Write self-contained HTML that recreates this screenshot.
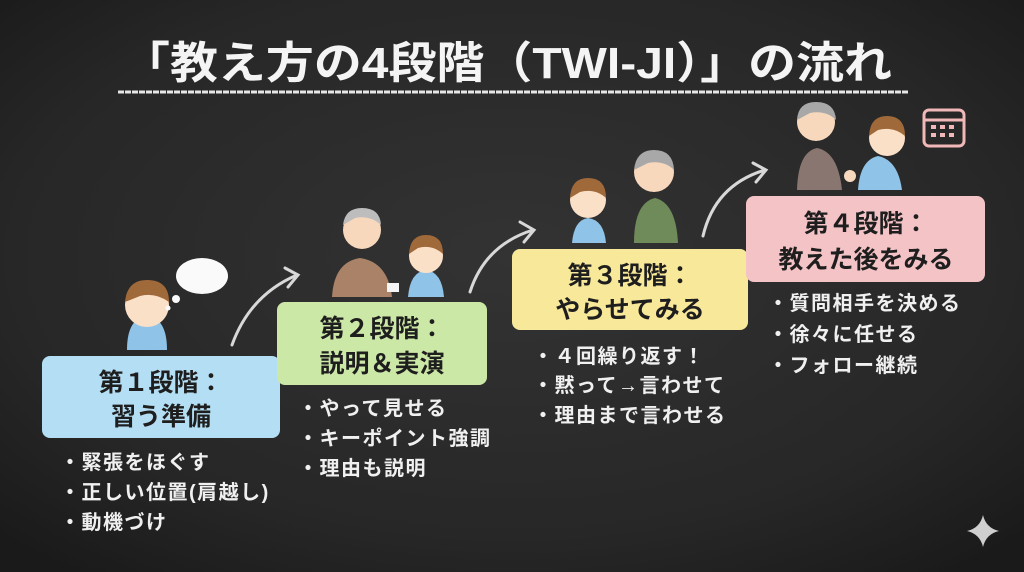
<!DOCTYPE html>
<html><head><meta charset="utf-8"><style>
html,body{margin:0;padding:0;width:1024px;height:572px;overflow:hidden;background:#262626}
svg{display:block}
text{font-family:"Liberation Sans","Noto Sans CJK JP",sans-serif;font-weight:700}
</style></head><body>
<svg width="1024" height="572" viewBox="0 0 1024 572" xmlns="http://www.w3.org/2000/svg">
<defs>
<radialGradient id="bg" cx="50%" cy="45%" r="70%">
<stop offset="0" stop-color="#333333"/><stop offset="0.7" stop-color="#272727"/><stop offset="1" stop-color="#1a1a1a"/>
</radialGradient>
</defs>
<rect width="1024" height="572" fill="url(#bg)"/>
<text x="122" y="78" font-size="44" fill="#f4f4f4" textLength="770" lengthAdjust="spacingAndGlyphs">「教え方の4段階（TWI-JI）」の流れ</text>
<line x1="118" y1="92" x2="908" y2="92" stroke="#e6e6e6" stroke-width="3" stroke-dasharray="6 1"/>

<g fill="none" stroke="#d8d8d8" stroke-width="3" stroke-linecap="round">
<path d="M232 345 Q250 295 297 275"/><path d="M285 268 L298 275 L288 287"/>
<path d="M470 292 Q485 245 533 230"/><path d="M520 222 L534 230 L524 242"/>
<path d="M703 236 Q715 185 765 170"/><path d="M753 163 L766 170 L756 182"/>
</g>

<rect x="42" y="356" width="238" height="82" rx="8" fill="#b3def3"/>
<rect x="277" y="302" width="210" height="83" rx="8" fill="#cce8a6"/>
<rect x="512" y="249" width="236" height="81" rx="8" fill="#f8e89a"/>
<rect x="746" y="196" width="239" height="86" rx="8" fill="#f4c3c6"/>
<g fill="#1e1e1e" font-size="25" text-anchor="middle">
<text x="161" y="391">第１段階：</text><text x="161" y="425">習う準備</text>
<text x="382" y="337">第２段階：</text><text x="382" y="372">説明＆実演</text>
<text x="630" y="284">第３段階：</text><text x="630" y="318">やらせてみる</text>
<text x="866" y="232">第４段階：</text><text x="866" y="268">教えた後をみる</text>
</g>
<g fill="#f0f0f0" font-size="20" letter-spacing="1.5">
<text x="60" y="469">・緊張をほぐす</text><text x="60" y="499">・正しい位置(肩越し)</text><text x="60" y="529">・動機づけ</text>
<text x="298" y="415">・やって見せる</text><text x="298" y="445">・キーポイント強調</text><text x="298" y="475">・理由も説明</text>
<text x="533" y="363">・４回繰り返す！</text><text x="533" y="392">・黙って→言わせて</text><text x="533" y="422">・理由まで言わせる</text>
<text x="768" y="310">・質問相手を決める</text><text x="768" y="341">・徐々に任せる</text><text x="768" y="372">・フォロー継続</text>
</g>

<path d="M127 350 Q127 318 147 316 Q167 318 167 350 Z" fill="#8fc3e8"/>
<circle cx="147" cy="305" r="22" fill="#fbe0c8"/>
<path d="M125 302 Q127 280 147 280 Q169 280 169 302 Q155 292 140 296 Z" fill="#a0693a"/>
<g fill="#fafafa"><ellipse cx="202" cy="276" rx="26" ry="18"/><circle cx="176" cy="299" r="4"/><circle cx="168" cy="308" r="2.5"/></g>
<path d="M332 297 Q334 262 360 258 Q388 262 392 297 Z" fill="#a98268"/>
<circle cx="362" cy="230" r="19" fill="#f7d8bd"/><path d="M343 225 Q345 208 362 208 Q380 208 381 225 Q370 215 355 218 Z" fill="#bdbdbd"/>
<path d="M408 297 Q410 272 426 270 Q442 272 444 297 Z" fill="#8fc3e8"/>
<circle cx="426" cy="256" r="17" fill="#fbe0c8"/><path d="M409 254 Q410 235 426 235 Q443 235 443 254 Q432 244 418 248 Z" fill="#a0693a"/>
<rect x="387" y="283" width="12" height="9" fill="#f5f5f5"/>
<path d="M572 243 Q574 220 588 218 Q604 220 606 243 Z" fill="#8fc3e8"/>
<circle cx="588" cy="200" r="18" fill="#fbe0c8"/><path d="M570 198 Q571 178 588 178 Q606 178 606 198 Q595 188 580 192 Z" fill="#a0693a"/>
<path d="M634 243 Q634 203 655 198 Q676 203 678 243 Z" fill="#6f8b5a"/>
<circle cx="654" cy="172" r="20" fill="#f7d8bd"/><path d="M634 170 Q636 150 654 150 Q673 150 674 170 Q664 160 648 163 Z" fill="#a8a8a8"/>
<path d="M797 190 Q798 152 817 148 Q838 152 842 190 Z" fill="#8a7670"/>
<circle cx="816" cy="122" r="19" fill="#f7d8bd"/><path d="M797 120 Q798 102 816 102 Q835 102 836 120 Q826 110 810 113 Z" fill="#a8a8a8"/>
<path d="M858 190 Q860 160 878 156 Q898 160 902 190 Z" fill="#8fc3e8"/>
<circle cx="887" cy="138" r="18" fill="#fbe0c8"/><path d="M869 136 Q870 116 887 116 Q905 116 905 136 Q894 126 878 130 Z" fill="#a0693a"/>
<circle cx="850" cy="176" r="6" fill="#f7d8bd"/>
<rect x="924" y="110" width="40" height="36" rx="5" fill="none" stroke="#f0b8b8" stroke-width="3"/>
<line x1="924" y1="120" x2="964" y2="120" stroke="#f0b8b8" stroke-width="3"/>
<g fill="#f0b8b8"><rect x="931" y="125" width="5" height="4"/><rect x="940" y="125" width="5" height="4"/><rect x="949" y="125" width="5" height="4"/><rect x="931" y="133" width="5" height="4"/><rect x="940" y="133" width="5" height="4"/><rect x="949" y="133" width="5" height="4"/></g>
<path d="M983 515 Q986 528 999 531 Q986 534 983 547 Q980 534 967 531 Q980 528 983 515 Z" fill="#cfcfcf"/>
</svg>
</body></html>
